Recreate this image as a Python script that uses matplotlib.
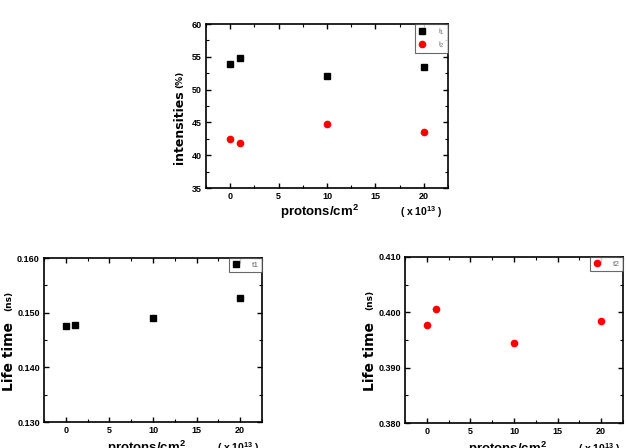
import numpy as np
import matplotlib
matplotlib.use('Agg')
import matplotlib.pyplot as plt
from matplotlib.ticker import MultipleLocator, FormatStrFormatter

plt.rcParams['font.family'] = ['Liberation Sans', 'DejaVu Sans']
plt.rcParams['font.weight'] = 'bold'

dose = [0, 1, 10, 20]
i1 = [53.9, 54.8, 52.1, 53.5]
i2 = [42.4, 41.8, 44.7, 43.6]
t1 = [0.1475, 0.1478, 0.1491, 0.1526]
t2 = [0.3978, 0.4006, 0.3945, 0.3984]

W, H = 627, 448
fig = plt.figure(figsize=(W / 100, H / 100), dpi=100)


def make_ax(l, t, r, b):
    ax = fig.add_axes([l / W, 1 - b / H, (r - l) / W, (b - t) / H])
    ax.set_xlim(-2.5, 22.5)
    ax.xaxis.set_major_locator(MultipleLocator(5))
    ax.xaxis.set_minor_locator(MultipleLocator(2.5))
    ax.tick_params(which='both', direction='in', top=True, right=True, labelsize=6.5, pad=3)
    ax.tick_params(which='major', length=3.5, width=1)
    ax.tick_params(which='minor', length=2, width=0.8)
    for s in ax.spines.values():
        s.set_linewidth(1.2)
    for lab in ax.get_xticklabels() + ax.get_yticklabels():
        lab.set_fontweight('bold')
    return ax


def legend(ax, items):
    leg = ax.legend(handles=items, loc='upper right', fontsize=6, frameon=True, fancybox=False,
                    borderaxespad=0, handlelength=1.0, handletextpad=1.4, borderpad=0.35,
                    labelspacing=0.3)
    leg.get_frame().set_edgecolor('#444444')
    leg.get_frame().set_linewidth(0.8)
    for t in leg.get_texts():
        t.set_fontweight('normal')
        t.set_color('#666666')


def ylabels(ax, x, main, unit, ymain, yunit, size):
    ax.text(x, ymain, main, transform=ax.transAxes, rotation=90, family='DejaVu Sans',
            fontsize=size, fontweight='bold', ha='center', va='center')
    ax.text(x, yunit, unit, transform=ax.transAxes, rotation=90, family='DejaVu Sans',
            fontsize=6.5, fontweight='bold', ha='center', va='center')


def xlabels(ax, y):
    ax.text(0.47, y, 'protons/cm$^{\\mathregular{2}}$', transform=ax.transAxes,
            fontsize=9.5, fontweight='bold', ha='center', va='top')
    ax.text(0.89, y - 0.01, '( x 10$^{\\mathregular{13}}$ )', transform=ax.transAxes,
            fontsize=7.5, fontweight='bold', ha='center', va='top')


# top: intensities
ax = make_ax(206, 24, 448, 188)
ax.set_ylim(35, 60)
ax.yaxis.set_major_locator(MultipleLocator(5))
ax.yaxis.set_minor_locator(MultipleLocator(2.5))
ax.yaxis.set_major_formatter(FormatStrFormatter('%d'))
h1, = ax.plot(dose, i1, 's', color='black', ms=4, label='$\\mathregular{i_1}$')
h2, = ax.plot(dose, i2, 'o', color='red', ms=4.5, label='$\\mathregular{i_2}$')
legend(ax, [h1, h2])
ylabels(ax, -0.11, 'intensities', '(%)', 0.37, 0.66, 9)
xlabels(ax, -0.09)

# bottom left: t1
ax = make_ax(44, 258, 262, 422)
ax.set_ylim(0.130, 0.160)
ax.yaxis.set_major_locator(MultipleLocator(0.010))
ax.yaxis.set_minor_locator(MultipleLocator(0.005))
ax.yaxis.set_major_formatter(FormatStrFormatter('%.3f'))
h, = ax.plot(dose, t1, 's', color='black', ms=4, label='t1')
legend(ax, [h])
ylabels(ax, -0.16, 'Life time', '(ns)', 0.40, 0.74, 10)
xlabels(ax, -0.10)

# bottom right: t2
ax = make_ax(405, 257, 623, 423)
ax.set_ylim(0.380, 0.410)
ax.yaxis.set_major_locator(MultipleLocator(0.010))
ax.yaxis.set_minor_locator(MultipleLocator(0.005))
ax.yaxis.set_major_formatter(FormatStrFormatter('%.3f'))
h, = ax.plot(dose, t2, 'o', color='red', ms=4.5, label='t2')
legend(ax, [h])
ylabels(ax, -0.16, 'Life time', '(ns)', 0.40, 0.74, 10)
xlabels(ax, -0.10)

fig.savefig('out.png', dpi=100)
